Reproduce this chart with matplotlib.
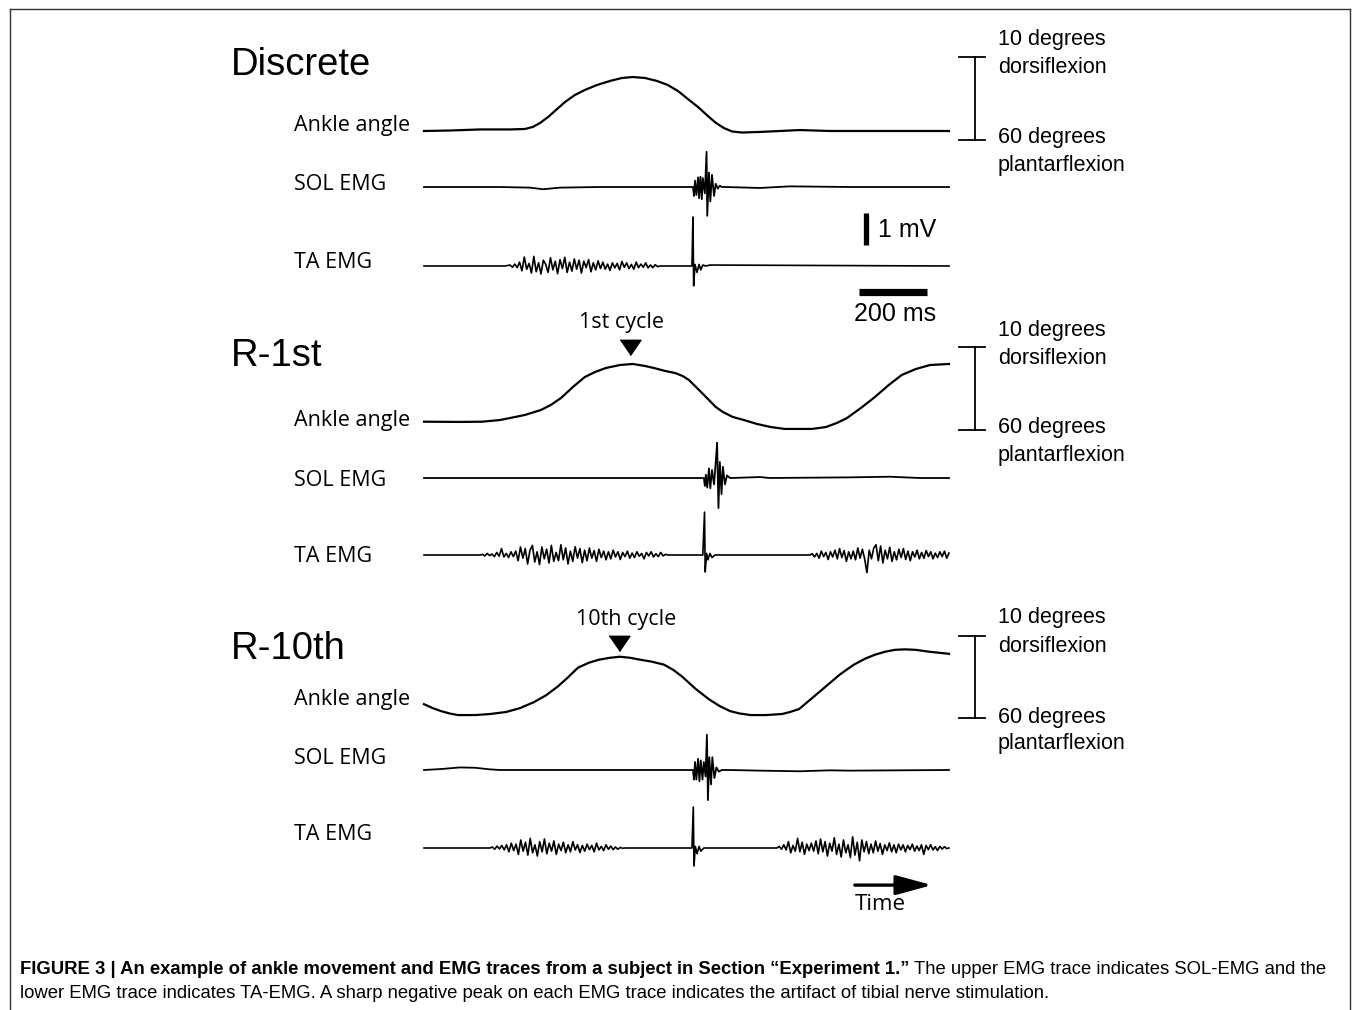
import numpy as np
import matplotlib
matplotlib.use("Agg")
import matplotlib.pyplot as plt
from matplotlib.lines import Line2D

# ---- ankle angle traces: time (ms) / angle (deg, + = dorsiflexion) ----
disc_ang_t = [0, 76, 165, 253, 297, 320, 341, 365, 388, 415, 444, 473, 509, 547, 582, 614,
              650, 685, 717, 747, 776, 806, 835, 859, 882, 906, 935, 988, 1047, 1105, 1194,
              1311, 1429, 1544]
disc_ang = [-52.4, -52.0, -51.1, -51.1, -50.7, -49.0, -45.7, -40.6, -34.7, -27.9, -22.0, -17.8,
            -13.6, -10.2, -7.7, -6.9, -7.7, -10.2, -13.6, -18.7, -25.4, -32.2, -39.8, -45.7,
            -49.9, -52.8, -53.7, -53.2, -52.4, -51.6, -52.4, -52.4, -52.4, -52.4]

r1_ang_t = [0, 106, 171, 223, 253, 297, 344, 373, 403, 438, 473, 503, 535, 576, 614, 650, 676,
            709, 738, 761, 779, 809, 838, 858, 879, 908, 941, 979, 1020, 1061, 1103, 1141, 1182,
            1214, 1244, 1285, 1326, 1367, 1405, 1446, 1488, 1544]
r1_ang = [-53.0, -53.2, -53.0, -51.6, -49.9, -47.3, -43.1, -38.9, -33.0, -23.7, -15.3, -11.1,
          -7.7, -5.2, -4.3, -6.0, -7.7, -10.2, -11.9, -14.5, -17.8, -26.3, -34.7, -40.6, -44.8,
          -49.0, -51.6, -54.9, -57.5, -59.1, -59.1, -59.1, -57.5, -54.1, -49.9, -41.4, -32.2,
          -22.0, -13.6, -8.6, -5.2, -4.3]

r10_ang_t = [0, 26, 50, 76, 100, 150, 194, 241, 282, 323, 359, 394, 423, 453, 485, 515, 547,
             576, 606, 635, 670, 706, 732, 759, 797, 838, 870, 900, 929, 961, 1005, 1053, 1076,
             1103, 1141, 1182, 1223, 1264, 1297, 1326, 1355, 1385, 1414, 1446, 1488, 1544]
r10_ang = [-48.2, -51.6, -54.1, -56.2, -57.5, -57.5, -56.6, -54.9, -51.6, -46.5, -40.6, -33.0,
           -25.4, -17.0, -12.8, -10.2, -8.6, -7.7, -8.6, -10.2, -11.9, -14.5, -18.7, -24.6,
           -34.7, -44.0, -49.9, -54.1, -56.2, -57.5, -57.5, -56.6, -54.9, -52.4, -43.1, -33.0,
           -22.9, -14.5, -9.4, -6.0, -3.5, -1.8, -1.4, -1.8, -3.5, -5.2]

# ---- EMG (mV): slow baseline points, SOL bursts, TA artifacts, TA noise bursts ----
disc_sol_base_t = [0, 223, 312, 350, 400, 517, 782, 885, 988, 1076, 1252, 1544]
disc_sol_base = [0, 0, -0.02, -0.07, -0.02, 0, 0, 0, -0.03, 0.02, 0, 0]
disc_sol_burst_t = [791, 794, 797, 801, 806, 809, 813, 817, 820, 826, 831, 833, 838, 842, 847,
                    853, 858, 864, 870, 876]
disc_sol_burst = [0, -0.28, 0.2, -0.25, 0.3, -0.35, 0.32, -0.38, 0.28, -0.2, 1.1, -0.9, 0.45,
                  -0.45, 0.38, -0.28, 0.1, -0.05, 0.04, 0]

disc_ta_base_t = [0, 238, 709, 782, 1544]
disc_ta_base = [0, 0, 0, 0, 0]
disc_ta_art_t = [788, 791, 793, 797, 803, 809, 814, 820, 829, 841]
disc_ta_art = [0, 1.53, -0.62, 0.05, -0.2, 0.05, -0.12, 0.03, 0, 0.03]
disc_ta_noise_span = (253, 694)
disc_ta_noise = [0.03, -0.04, 0.06, -0.05, 0.12, -0.15, 0.28, -0.1, 0.08, -0.22, 0.3, -0.18,
                 0.1, -0.25, 0.18, 0.05, -0.2, 0.26, -0.12, 0.15, -0.24, 0.2, -0.08, 0.27,
                 -0.2, 0.12, -0.16, 0.22, -0.1, 0.18, -0.22, 0.15, -0.05, 0.2, -0.18, 0.1,
                 -0.12, 0.16, -0.08, 0.12, -0.1, 0.06, -0.14, 0.1, -0.06, 0.08, -0.12, 0.14,
                 -0.04, 0.1, -0.08, 0.05, -0.1, 0.12, -0.05, 0.06, -0.04, 0.1, -0.06, 0.03,
                 -0.05, 0.04, -0.02, 0.0]

r1_sol_base_t = [0, 517, 820, 906, 988, 1017, 1252, 1370, 1458, 1544]
r1_sol_base = [0, 0, 0, 0, 0.03, 0, 0.02, 0.04, 0, 0]
r1_sol_burst_t = [823, 826, 829, 833, 838, 842, 847, 853, 858, 862, 866, 870, 875, 879, 885,
                  891, 900]
r1_sol_burst = [0, -0.25, 0.1, -0.3, 0.3, -0.32, 0.25, -0.2, 0.5, 1.1, -0.94, 0.5, -0.5, 0.35,
                -0.2, 0.08, 0]

r1_ta_base_t = [0, 135, 729, 811, 1105]
r1_ta_base = [0, 0, 0, 0, 0]
r1_ta_art_t = [820, 825, 827, 831, 835, 841, 847, 856]
r1_ta_art = [0, 1.34, -0.53, 0.05, -0.15, 0.05, -0.08, 0]
r1_ta_noise1_span = (165, 717)
r1_ta_noise1 = [0.0, 0.02, -0.03, 0.05, -0.02, 0.03, -0.05, 0.08, -0.04, 0.2, -0.06, 0.05,
                -0.08, 0.1, -0.05, 0.12, -0.18, 0.25, -0.1, 0.2, -0.28, 0.15, 0.3, -0.22, 0.1,
                -0.3, 0.25, -0.12, 0.18, -0.25, 0.3, -0.2, 0.08, -0.18, 0.32, -0.15, 0.22,
                -0.28, 0.12, -0.2, 0.26, -0.1, 0.2, -0.24, 0.15, -0.18, 0.22, -0.1, 0.14, -0.2,
                0.18, -0.08, 0.12, -0.15, 0.1, -0.12, 0.15, -0.06, 0.1, -0.14, 0.08, -0.05,
                0.12, -0.1, 0.06, -0.08, 0.1, -0.04, 0.05, -0.12, 0.08, -0.03, 0.1, -0.06, 0.04,
                -0.05, 0.08, -0.03, 0.02, 0.0]
r1_ta_noise2_span = (1135, 1544)
r1_ta_noise2 = [0.0, 0.04, -0.06, 0.05, -0.1, 0.12, -0.05, 0.08, -0.14, 0.1, -0.06, 0.15,
                -0.12, 0.2, -0.08, 0.14, -0.2, 0.1, -0.12, 0.12, -0.15, 0.22, -0.1, 0.18, -0.12,
                -0.55, 0.15, -0.12, 0.22, 0.32, -0.18, 0.28, -0.25, 0.15, -0.12, 0.24, -0.2,
                0.1, -0.15, 0.18, -0.08, 0.2, -0.14, 0.12, -0.18, 0.1, -0.06, 0.15, -0.12, 0.08,
                -0.1, 0.14, -0.05, 0.1, -0.12, 0.06, -0.08, 0.1, -0.05, 0.12, -0.1, 0.06]

r10_sol_base_t = [0, 50, 106, 150, 194, 223, 782, 900, 988, 1105, 1194, 1252, 1544]
r10_sol_base = [0, 0.03, 0.08, 0.07, 0.02, 0, 0, 0, -0.02, -0.04, -0.01, -0.02, 0]
r10_sol_burst_t = [791, 794, 797, 801, 806, 810, 814, 819, 823, 828, 832, 835, 839, 844, 848,
                   854, 860, 867, 876]
r10_sol_burst = [0, -0.3, 0.25, -0.3, 0.35, -0.35, 0.3, -0.3, 0.25, -0.2, 1.1, -0.94, 0.4,
                 -0.45, 0.4, -0.25, 0.08, -0.05, 0]

r10_ta_base_t = [0, 165, 606, 782, 1017]
r10_ta_base = [0, 0, 0, 0, 0]
r10_ta_art_t = [788, 792, 794, 798, 803, 809, 814, 823]
r10_ta_art = [0, 1.28, -0.56, 0.05, -0.18, 0.05, -0.1, 0]
r10_ta_noise1_span = (194, 591)
r10_ta_noise1 = [0.0, 0.03, -0.04, 0.06, -0.03, 0.08, -0.06, 0.1, -0.12, 0.15, -0.08, 0.12,
                 -0.2, 0.25, -0.1, 0.18, -0.22, 0.3, -0.15, 0.1, -0.25, 0.2, -0.12, 0.28,
                 -0.18, 0.15, -0.1, 0.22, -0.2, 0.12, -0.08, 0.18, -0.15, 0.1, -0.12, 0.2,
                 -0.06, 0.1, -0.14, 0.08, -0.1, 0.12, -0.05, 0.08, -0.12, 0.15, -0.06, 0.05,
                 -0.08, 0.1, -0.04, 0.06, -0.05, 0.03, -0.04, 0.02, -0.01, 0.0]
r10_ta_noise2_span = (1038, 1544)
r10_ta_noise2 = [0.0, 0.05, -0.04, 0.1, -0.06, 0.2, -0.15, 0.08, -0.1, 0.3, -0.12, 0.18, -0.2,
                 0.12, -0.08, 0.15, -0.1, 0.22, -0.18, 0.28, -0.12, 0.2, -0.25, 0.15, -0.1,
                 0.32, -0.2, 0.12, -0.28, 0.25, -0.15, 0.1, -0.3, 0.35, -0.22, 0.18, -0.4,
                 0.25, -0.12, 0.2, -0.18, 0.12, -0.15, 0.22, -0.1, 0.14, -0.2, 0.1, -0.08,
                 0.16, -0.12, 0.1, -0.15, 0.12, -0.06, 0.1, -0.12, 0.08, -0.05, 0.12, -0.1,
                 0.06, -0.08, 0.1, -0.2, 0.08, -0.05, 0.1, -0.06, 0.04, -0.08, 0.05, -0.03,
                 0.04, -0.02, 0.0]

# marker time, marker angle, label time, label
cycle_marks = {"R-1st": (606, 10.0, 582, "1st cycle"), "R-10th": (573, 3.7, 594, "10th cycle")}

# ---- layout (pixels of a 1352x1010 canvas) ----
W, H = 1352, 1010
X0, X1 = 424, 949
T_MAX = 1544
PX_PER_MV = 32
ARIAL = "Liberation Sans"
MYRIAD = "Open Sans"

fig = plt.figure(figsize=(W / 100, H / 100), dpi=100)


def box(x0, y0, x1, y1):
    return [x0 / W, 1 - y1 / H, (x1 - x0) / W, (y1 - y0) / H]


def ftext(x, y, s, **kw):
    kw.setdefault("va", "center")
    kw.setdefault("color", "black")
    return fig.text(x / W, 1 - y / H, s, **kw)


def emg_axes(baseline):
    ax = fig.add_axes(box(X0, baseline - 2 * PX_PER_MV, X1, baseline + 2 * PX_PER_MV))
    ax.set_xlim(0, T_MAX)
    ax.set_ylim(-2, 2)
    ax.axis("off")
    return ax


def emg_series(parts):
    t = np.concatenate([np.asarray(p[0], float) for p in parts])
    v = np.concatenate([np.asarray(p[1], float) for p in parts])
    order = np.argsort(t, kind="stable")
    return t[order], v[order]


def noise(span, vals):
    return np.linspace(span[0], span[1], len(vals)), vals


panels = [
    dict(name="Discrete", title_y=65, ang_lab_y=126, bar=(57, 140), sol_y=187, sol_lab=185,
         ta_y=266, ta_lab=262, right=(39, 67, 138, 165),
         ang=(disc_ang_t, disc_ang),
         sol=[(disc_sol_base_t, disc_sol_base), (disc_sol_burst_t, disc_sol_burst)],
         ta=[(disc_ta_base_t, disc_ta_base), (disc_ta_art_t, disc_ta_art),
             noise(disc_ta_noise_span, disc_ta_noise)]),
    dict(name="R-1st", title_y=356, ang_lab_y=421, bar=(347, 430), sol_y=478, sol_lab=481,
         ta_y=555, ta_lab=557, right=(330, 358, 428, 455),
         ang=(r1_ang_t, r1_ang),
         sol=[(r1_sol_base_t, r1_sol_base), (r1_sol_burst_t, r1_sol_burst)],
         ta=[(r1_ta_base_t, r1_ta_base), (r1_ta_art_t, r1_ta_art),
             noise(r1_ta_noise1_span, r1_ta_noise1), noise(r1_ta_noise2_span, r1_ta_noise2)]),
    dict(name="R-10th", title_y=649, ang_lab_y=699, bar=(636, 718), sol_y=770, sol_lab=758,
         ta_y=848, ta_lab=835, right=(618, 646, 717, 744),
         ang=(r10_ang_t, r10_ang),
         sol=[(r10_sol_base_t, r10_sol_base), (r10_sol_burst_t, r10_sol_burst)],
         ta=[(r10_ta_base_t, r10_ta_base), (r10_ta_art_t, r10_ta_art),
             noise(r10_ta_noise1_span, r10_ta_noise1), noise(r10_ta_noise2_span, r10_ta_noise2)]),
]

ta_axes = {}
for p in panels:
    ftext(231, p["title_y"], p["name"], fontsize=27.5, family=ARIAL)
    ftext(294, p["ang_lab_y"], "Ankle angle", fontsize=15.5, family=MYRIAD)
    ftext(294, p["sol_lab"], "SOL EMG", fontsize=15.5, family=MYRIAD)
    ftext(294, p["ta_lab"], "TA EMG", fontsize=15.5, family=MYRIAD)

    # ankle angle, 10 deg dorsiflexion .. 60 deg plantarflexion
    top, bot = p["bar"]
    ax = fig.add_axes(box(X0, top, X1, bot))
    ax.set_xlim(0, T_MAX)
    ax.set_ylim(-60, 10)
    ax.axis("off")
    ax.plot(p["ang"][0], p["ang"][1], color="black", lw=1.6, clip_on=False,
            solid_joinstyle="round")
    # angle scale bar
    ax.plot([1620, 1620], [-60, 10], color="black", lw=1.3, clip_on=False)
    for yv in (-60, 10):
        ax.plot([1573, 1650], [yv, yv], color="black", lw=1.3, clip_on=False)
    if p["name"] in cycle_marks:
        tc, yc, tl, lab = cycle_marks[p["name"]]
        ax.plot([tc], [yc], marker=[(-1.3, 0.9), (1.3, 0.9), (0, -1)], markersize=15,
                color="black", clip_on=False)
        ax.text(tl, yc + 20.5, lab, ha="center", va="center", fontsize=15.5, family=MYRIAD)

    r = p["right"]
    ftext(998, r[0], "10 degrees", fontsize=15.5, family=ARIAL)
    ftext(998, r[1], "dorsiflexion", fontsize=15.5, family=ARIAL)
    ftext(998, r[2], "60 degrees", fontsize=15.5, family=ARIAL)
    ftext(998, r[3], "plantarflexion", fontsize=15.5, family=ARIAL)

    ax = emg_axes(p["sol_y"])
    t, v = emg_series(p["sol"])
    ax.plot(t, v, color="black", lw=1.3, clip_on=False)

    ax = emg_axes(p["ta_y"])
    t, v = emg_series(p["ta"])
    ax.plot(t, v, color="black", lw=1.2, clip_on=False)
    ta_axes[p["name"]] = ax

# 1 mV and 200 ms scale bars (in the Discrete TA axes)
ax = ta_axes["Discrete"]
ax.plot([1299, 1299], [0.66, 1.66], color="black", lw=3.8, solid_capstyle="butt", clip_on=False)
ax.text(1335, 1.12, "1 mV", fontsize=18, family=ARIAL, va="center", ha="left")
ax.plot([1279, 1479], [-0.81, -0.81], color="black", lw=5.2, solid_capstyle="butt",
        clip_on=False)
ax.text(1384, -1.51, "200 ms", fontsize=18, family=ARIAL, va="center", ha="center")

# time arrow
ax = ta_axes["R-10th"]
ax.annotate("", xy=(1494, -1.16), xytext=(1267, -1.16), annotation_clip=False,
            arrowprops=dict(arrowstyle="-|>,head_length=1.1,head_width=0.3", lw=2.4,
                            mutation_scale=20, color="black", shrinkA=0, shrinkB=0))
ax.text(1343, -1.78, "Time", fontsize=16, family=MYRIAD, va="center", ha="center")

# frame around the figure
for xs, ys in (([10, 10], [9, 1010]), ([10, 1350], [9, 9]), ([1350, 1350], [9, 1010])):
    fig.add_artist(Line2D([x / W for x in xs], [1 - y / H for y in ys],
                          transform=fig.transFigure, color="#333333", lw=1.0))

# caption
CAP = ["Liberation Sans Narrow", "Liberation Sans"]
cap_size = 13.35
bold = ftext(20, 969, "FIGURE 3 | An example of ankle movement and EMG traces from a subject "
             "in Section \u201cExperiment 1.\u201d", fontsize=cap_size, family=CAP,
             weight="bold", ha="left")
fig.canvas.draw()
bb = bold.get_window_extent()
fig.text(bb.x1 / W + 4 / W, 1 - 969 / H, "The upper EMG trace indicates SOL-EMG and the",
         fontsize=cap_size, family=CAP, va="center", ha="left")
ftext(20, 994, "lower EMG trace indicates TA-EMG. A sharp negative peak on each EMG trace "
      "indicates the artifact of tibial nerve stimulation.", fontsize=cap_size, family=CAP,
      ha="left")

fig.savefig("out.png", dpi=100, facecolor="white")
